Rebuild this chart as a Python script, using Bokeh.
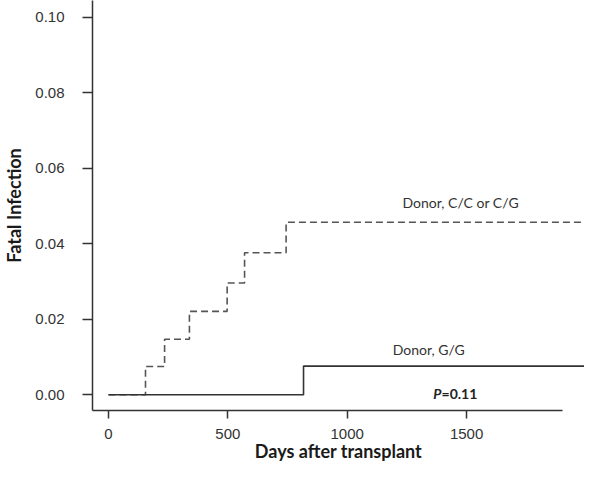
from bokeh.plotting import figure
from bokeh.models import FixedTicker, NumeralTickFormatter, Range1d
from bokeh.core.properties import value
from bokeh.embed import file_html
from bokeh.resources import INLINE

# Data (cumulative incidence of fatal infection)
gg_days = [0, 817, 2053]
gg_cif = [0.0, 0.0076, 0.0076]

cc_days = [0, 155, 235, 339, 497, 570, 744, 2061]
cc_cif = [0.0, 0.0075, 0.0147, 0.0221, 0.0296, 0.0376, 0.0457, 0.0457]

x_ticks = [0, 500, 1000, 1500]
y_ticks = [0.0, 0.02, 0.04, 0.06, 0.08, 0.10]

label_cc = "Donor,  C/C or C/G"
label_gg = "Donor,  G/G"
x_title = "Days after transplant"
y_title = "Fatal Infection"

p = figure(width=584, height=464, output_backend="svg", toolbar_location=None,
           x_range=Range1d(-67, 1994), y_range=Range1d(-0.00416, 0.10442),
           min_border_left=92, min_border_bottom=54, min_border_top=0, min_border_right=0)
p.outline_line_color = None
p.xgrid.grid_line_color = None
p.ygrid.grid_line_color = None

p.step(cc_days, cc_cif, mode="after", line_color="#555555", line_width=1.6, line_dash="7 4")
p.step(gg_days, gg_cif, mode="after", line_color="#333333", line_width=1.6)

fontlab = "Liberation Sans"
p.text(x=[1483], y=[0.0510], text=[label_cc], text_font=value("Lato"), text_font_size="14px",
       text_align="center", text_baseline="middle", text_color="#333333")
p.text(x=[1349], y=[0.0120], text=[label_gg], text_font=value("Lato"), text_font_size="14px",
       text_align="center", text_baseline="middle", text_color="#333333")
p.text(x=[1395], y=[0.0003], text=["P"], text_font=value("Lato"), text_font_size="14px",
       text_font_style="bold italic", text_align="right", text_baseline="middle", text_color="#222222")
p.text(x=[1395], y=[0.0003], text=["=0.11"], text_font=value("Lato"), text_font_size="14px",
       text_font_style="bold", text_align="left", text_baseline="middle", text_color="#222222")

xa = p.xaxis[0]
xa.ticker = FixedTicker(ticks=x_ticks)
xa.bounds = (-67, 1902)
xa.axis_label = x_title
ya = p.yaxis[0]
ya.ticker = FixedTicker(ticks=y_ticks)
ya.formatter = NumeralTickFormatter(format="0.00")
ya.axis_label = y_title

for ax in (xa, ya):
    ax.axis_line_color = "#333333"
    ax.axis_line_width = 1.5
    ax.major_tick_line_color = "#333333"
    ax.major_tick_line_width = 1.5
    ax.major_tick_in = 0
    ax.minor_tick_line_color = None
    ax.major_label_text_font = fontlab
    ax.major_label_text_font_size = "15px"
    ax.major_label_text_color = "#333333"
    ax.axis_label_text_font = "Lato"
    ax.axis_label_text_font_style = "bold"
    ax.axis_label_text_font_size = "18px"
    ax.axis_label_text_color = "#1a1a1a"

xa.major_tick_out = 8
xa.major_label_standoff = 10
xa.axis_label_standoff = -2
ya.major_tick_out = 10
ya.major_label_standoff = 18
ya.axis_label_standoff = 7

open("out.html", "w").write(file_html(p, INLINE))
